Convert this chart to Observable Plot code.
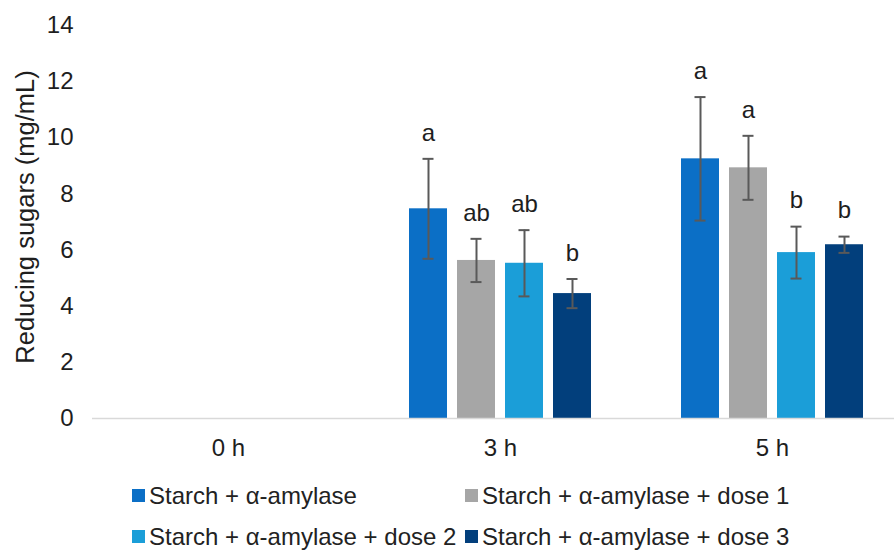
<!DOCTYPE html>
<html><head><meta charset="utf-8">
<script src="https://cdn.jsdelivr.net/npm/d3@7"></script>
<script src="https://cdn.jsdelivr.net/npm/@observablehq/plot@0.6"></script>
<style>
body{margin:0;background:#fff;font-family:"Liberation Sans",Arial,sans-serif;}
#chart{width:894px;height:551px;position:relative;overflow:hidden;background:#fff}
#chart svg{display:block}
.legend{display:grid;grid-template-columns:333px 333px;grid-auto-rows:41px;padding-left:132px;margin-top:-1px;color:#222;font-size:24px;}
.item{display:flex;align-items:center;white-space:nowrap}
.sw{width:13px;height:13px;margin-right:4px;flex:none}
</style></head><body><div id="chart"></div>
<script>
const times = ["0 h", "3 h", "5 h"];
const series = ["Starch + α-amylase", "Starch + α-amylase + dose 1", "Starch + α-amylase + dose 2", "Starch + α-amylase + dose 3"];
const colors = ["#0b6fc6", "#a6a6a6", "#1b9ed8", "#023f7c"];
const mean0h = [0, 0, 0, 0];
const mean3h = [7.47, 5.63, 5.53, 4.45];
const mean5h = [9.25, 8.93, 5.91, 6.19];
const err0h = [0, 0, 0, 0];
const err3h = [1.78, 0.77, 1.18, 0.52];
const err5h = [2.2, 1.14, 0.925, 0.29];
const letters0h = ["", "", "", ""];
const letters3h = ["a", "ab", "ab", "b"];
const letters5h = ["a", "a", "b", "b"];
const yTicks = [0, 2, 4, 6, 8, 10, 12, 14];

const meansByTime = [mean0h, mean3h, mean5h];
const errsByTime = [err0h, err3h, err5h];
const lettersByTime = [letters0h, letters3h, letters5h];
const rows = [];
times.forEach((t, i) => series.forEach((s, j) => rows.push({
  time: t, series: s, mean: meansByTime[i][j], err: errsByTime[i][j], letter: lettersByTime[i][j]
})));
const errRows = rows.filter(d => d.err > 0);

const chart = Plot.plot({
  width: 894, height: 476,
  marginLeft: 92, marginRight: -14, marginTop: 25, marginBottom: 58,
  style: {fontFamily: "Liberation Sans, Arial, sans-serif", fontSize: "24px", color: "#1e1e1e", background: "#fff"},
  fx: {domain: times, padding: 0, axis: "bottom", label: null, tickSize: 0, tickPadding: 20},
  x: {domain: series, paddingInner: 0.2041, paddingOuter: 0.8776, axis: null},
  y: {domain: [0, 14], ticks: yTicks, tickSize: 0, tickPadding: 19, label: "Reducing sugars (mg/mL)",
      labelAnchor: "center", labelArrow: "none", labelOffset: 79},
  color: {domain: series, range: colors},
  marks: [
    Plot.barY(rows, {fx: "time", x: "series", y: "mean", fill: "series"}),
    Plot.ruleY([0], {stroke: "#d9d9d9", strokeWidth: 1.5}),
    Plot.ruleX(errRows, {fx: "time", x: "series", y1: d => d.mean - d.err, y2: d => d.mean + d.err, stroke: "#595959", strokeWidth: 2}),
    Plot.tickY(errRows, {fx: "time", x: "series", y: d => d.mean - d.err, inset: 13.5, stroke: "#595959", strokeWidth: 2}),
    Plot.tickY(errRows, {fx: "time", x: "series", y: d => d.mean + d.err, inset: 13.5, stroke: "#595959", strokeWidth: 2}),
    Plot.text(errRows, {fx: "time", x: "series", y: d => d.mean + d.err, text: "letter", dy: -26, lineAnchor: "middle", fill: "#1e1e1e", fontSize: 24})
  ]
});
// enlarge the y-axis title slightly and nudge it to match the reference
const yLabel = chart.querySelector('g[aria-label="y-axis label"]');
if (yLabel) {
  yLabel.style.fontSize = "25.5px";
  yLabel.setAttribute("transform", "translate(2,-5) " + (yLabel.getAttribute("transform") || ""));
}
const root = document.getElementById("chart");
root.appendChild(chart);
const legend = document.createElement("div");
legend.className = "legend";
series.forEach((s, i) => {
  const item = document.createElement("div");
  item.className = "item";
  const sw = document.createElement("span");
  sw.className = "sw";
  sw.style.background = colors[i];
  const lab = document.createElement("span");
  lab.textContent = s;
  item.appendChild(sw); item.appendChild(lab);
  legend.appendChild(item);
});
root.appendChild(legend);
</script></body></html>
